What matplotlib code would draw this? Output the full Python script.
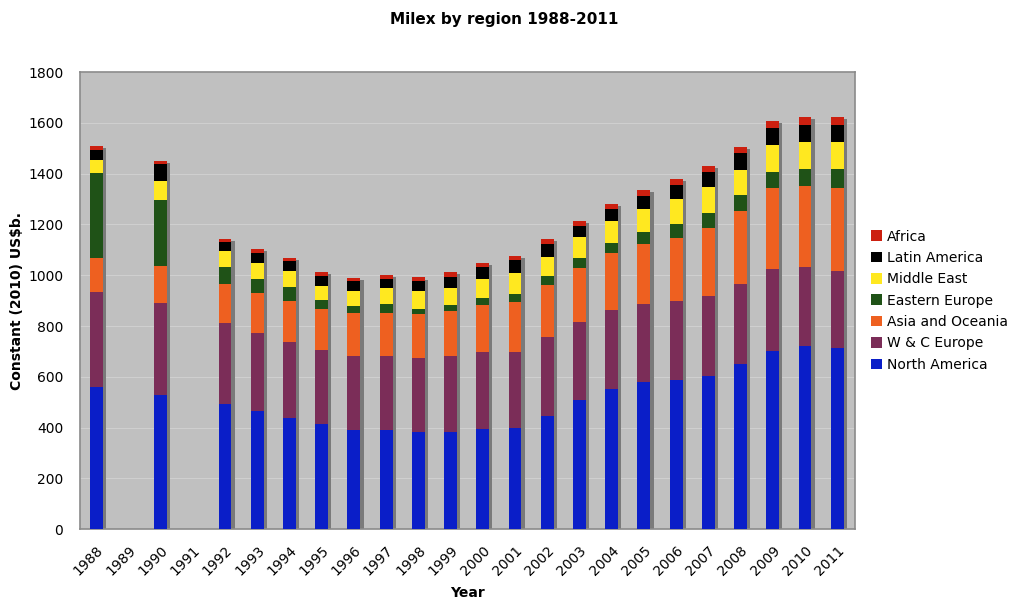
import numpy as np
import matplotlib
matplotlib.use("Agg")
import matplotlib.pyplot as plt
from matplotlib.patches import Patch

years = ["1988", "1989", "1990", "1991", "1992", "1993", "1994", "1995", "1996", "1997",
         "1998", "1999", "2000", "2001", "2002", "2003", "2004", "2005", "2006", "2007",
         "2008", "2009", "2010", "2011"]

nan = np.nan
north_america = [560, nan, 530, nan, 491, 466, 438, 415, 391, 389, 382, 382, 395, 399, 446, 508, 551, 578, 587, 605, 650, 700, 721, 713]
wc_europe     = [375, nan, 361, nan, 322, 307, 300, 290, 292, 292, 291, 299, 302, 298, 309, 309, 312, 308, 311, 313, 316, 325, 310, 302]
asia_oceania  = [134, nan, 145, nan, 152, 158, 159, 161, 167, 171, 174, 180, 184, 197, 206, 212, 225, 236, 249, 269, 285, 319, 320, 329]
east_europe   = [332, nan, 260, nan, 66, 55, 57, 36, 30, 34, 21, 21, 31, 33, 34, 40, 40, 47, 53, 56, 63, 63, 66, 73]
middle_east   = [52, nan, 75, nan, 65, 64, 61, 55, 57, 62, 69, 67, 75, 81, 76, 81, 84, 90, 99, 104, 100, 105, 106, 106]
latin_america = [40, nan, 65, nan, 33, 38, 39, 41, 41, 39, 41, 42, 46, 51, 51, 43, 48, 54, 56, 59, 66, 69, 69, 69]
africa        = [17, nan, 13, nan, 12, 14, 15, 13, 12, 15, 13, 20, 16, 17, 20, 20, 21, 22, 23, 25, 26, 26, 30, 30]

series = [
    ("North America", north_america, "#0a1ec8"),
    ("W & C Europe", wc_europe, "#7b2d58"),
    ("Asia and Oceania", asia_oceania, "#ee6020"),
    ("Eastern Europe", east_europe, "#1f5217"),
    ("Middle East", middle_east, "#ffe820"),
    ("Latin America", latin_america, "#000000"),
    ("Africa", africa, "#cc2010"),
]

plt.rcParams['font.family'] = ['DejaVu Sans']
fig = plt.figure(figsize=(10.09, 6.0), dpi=100)
ax = fig.add_axes([0.0793, 0.118, 0.768, 0.762])
ax.set_facecolor("#c0c0c0")

x = np.arange(len(years))
width = 0.4
vals = [np.nan_to_num(np.array(s[1], dtype=float)) for s in series]
total = np.sum(vals, axis=0)

# drop shadow
ax.bar(x + 0.1, total - 8, width=width, color="#7a7a7a", zorder=2, linewidth=0)

bottom = np.zeros(len(years))
handles = []
for (name, v, c), arr in zip(series, vals):
    ax.bar(x, arr, width=width, bottom=bottom, color=c, zorder=3, linewidth=0)
    bottom = bottom + arr
    handles.append(Patch(facecolor=c, edgecolor='none', label=name))

ax.set_xlim(-0.5, len(years) - 0.45)
ax.set_ylim(0, 1800)
ax.set_yticks(np.arange(0, 1801, 200))
ax.yaxis.grid(True, color="#cfcfcf", linewidth=0.8, zorder=0)
ax.set_axisbelow(True)
ax.set_xticks(x)
ax.set_xticklabels(years, rotation=45, ha='right', rotation_mode='anchor', fontsize=10)
ax.tick_params(axis='y', labelsize=10, length=0, pad=12)
ax.tick_params(axis='x', length=0, pad=10)
for side in ["left", "bottom", "right", "top"]:
    ax.spines[side].set_color("#8a8a8a")
    ax.spines[side].set_linewidth(1.2)

ax.set_ylabel("Constant (2010) US$b.", fontsize=10, fontweight='bold', labelpad=3)
ax.set_xlabel("Year", fontsize=10, fontweight='bold', labelpad=6)
fig.text(0.5, 0.968, "Milex by region 1988-2011", ha='center', va='center', fontsize=11, fontweight='bold')

leg = ax.legend(handles=handles[::-1], loc='center left', bbox_to_anchor=(1.013, 0.5), frameon=False,
                fontsize=10, handlelength=0.8, handleheight=0.8, handletextpad=0.35, labelspacing=0.53,
                borderaxespad=0)

fig.savefig("out.png", dpi=100, facecolor="white")
